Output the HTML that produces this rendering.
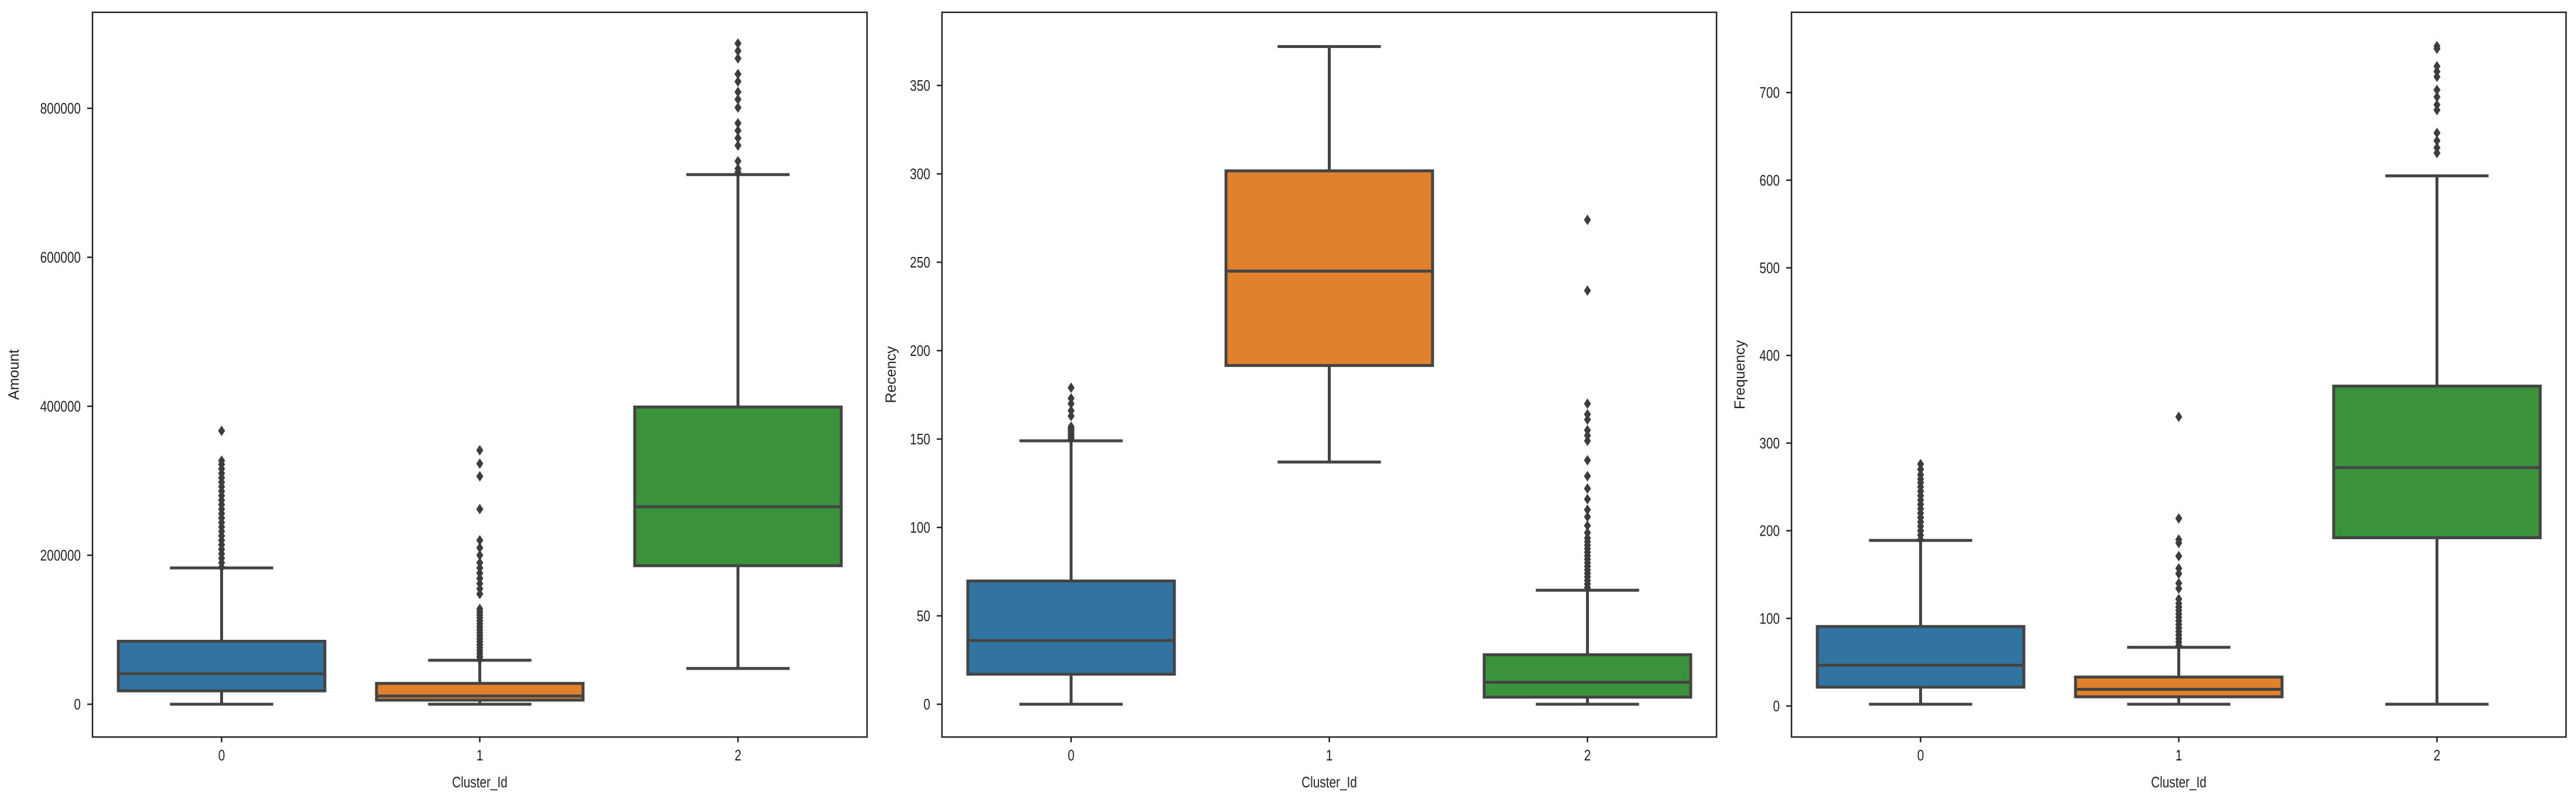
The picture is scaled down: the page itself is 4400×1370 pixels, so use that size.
<!DOCTYPE html>
<html><head><meta charset="utf-8"><style>
html,body{margin:0;padding:0;background:#fff;}
svg{display:block;font-family:"Liberation Sans",sans-serif;}
</style></head><body>
<svg id="fig" width="4400" height="1370" viewBox="0 0 4400 1370" xmlns="http://www.w3.org/2000/svg"></svg>
<script>
const categories = ["0","1","2"];
const colors = ["#3274a1","#e1812c","#3a923a"];
const xLabel = "Cluster_Id";

// Amount panel
const amountTicks = [0,200000,400000,600000,800000];
const amountQ1 = [18000, 5500, 186000];
const amountMed = [41000, 11000, 265000];
const amountQ3 = [84500, 28000, 399000];
const amountLow = [0, 0, 48000];
const amountHigh = [183000, 59000, 711000];
const amountOut0 = [184000,190000,196000,202000,208000,214000,220000,226000,232000,238000,244000,250000,256000,262000,268000,274000,280000,286000,292000,298000,304000,310000,316000,322000,327000,367000];
const amountOut1 = [60000,64000,68000,72000,76000,80000,84000,88000,92000,96000,100000,104000,108000,112000,116000,120000,124000,128000,148000,155000,162000,169000,176000,183000,190000,200000,210000,220000,262000,306000,323000,341000];
const amountOut2 = [714000,719000,729000,750000,760000,770000,780000,801000,812000,822000,836000,846000,867000,877000,887000];

// Recency panel
const recencyTicks = [0,50,100,150,200,250,300,350];
const recencyQ1 = [17, 191.6, 4];
const recencyMed = [36, 245, 12.4];
const recencyQ3 = [69.7, 301.7, 28];
const recencyLow = [0, 137, 0];
const recencyHigh = [149, 372, 64.5];
const recencyOut0 = [150,151,152,153,154,155,156,157,163,166,170,173,179];
const recencyOut1 = [];
const recencyOut2 = [66,68,70,72,74,76,78,80,82,84,86,88,90,92,94,97,101,106,110,116,122,129,138,149,152,155,161,164,170,234,274];

// Frequency panel
const freqTicks = [0,100,200,300,400,500,600,700];
const freqQ1 = [21.5, 10.5, 192];
const freqMed = [46.5, 19, 272];
const freqQ3 = [90.7, 33, 365];
const freqLow = [2, 2, 2];
const freqHigh = [189, 67, 605];
const freqOut0 = [190,195,200,205,210,215,220,225,230,235,240,245,250,255,259,264,270,276];
const freqOut1 = [69,73,77,81,85,89,93,97,101,105,109,113,117,122,134,140,151,157,171,186,190,214,330];
const freqOut2 = [631,637,645,654,680,686,695,703,718,724,730,750,753];

const NS = "http://www.w3.org/2000/svg";
const svg = document.getElementById("fig");
const LINE = "#444444";

function el(tag, attrs, parent){
  const e = document.createElementNS(NS, tag);
  for (const k in attrs) e.setAttribute(k, attrs[k]);
  (parent||svg).appendChild(e);
  return e;
}

function panel(cfg){
  const g = el("g", {});
  
  
  const L = cfg.left, R = cfg.left + 1323, T = 21, B = 1259;
  const y = v => cfg.zeroY - v * cfg.pxPerUnit;
  const x = i => L + (i + 0.5) * (R - L) / 3;
  const bw = 0.8 * (R - L) / 3;

  // boxes
  for (let i = 0; i < 3; i++){
    const bg = el("g", {}, g);
    
    
    const cx = x(i);
    el("line", {x1:cx, x2:cx, y1:y(cfg.q3[i]), y2:y(cfg.high[i]), stroke:LINE, "stroke-width":5}, bg);
    el("line", {x1:cx, x2:cx, y1:y(cfg.q1[i]), y2:y(cfg.low[i]), stroke:LINE, "stroke-width":5}, bg);
    el("line", {x1:cx-bw/4, x2:cx+bw/4, y1:y(cfg.high[i]), y2:y(cfg.high[i]), stroke:LINE, "stroke-width":5}, bg);
    el("line", {x1:cx-bw/4, x2:cx+bw/4, y1:y(cfg.low[i]), y2:y(cfg.low[i]), stroke:LINE, "stroke-width":5}, bg);
    el("rect", {x:cx-bw/2, y:y(cfg.q3[i]), width:bw, height:y(cfg.q1[i])-y(cfg.q3[i]), fill:colors[i], stroke:LINE, "stroke-width":5}, bg);
    el("line", {x1:cx-bw/2, x2:cx+bw/2, y1:y(cfg.med[i]), y2:y(cfg.med[i]), stroke:LINE, "stroke-width":5}, bg);
    cfg.out[i].forEach(v => {
      const yy = y(v);
      const d = el("path", {d:`M${cx} ${yy-9} L${cx+6} ${yy} L${cx} ${yy+9} L${cx-6} ${yy} Z`, fill:"#3d3d3d"}, bg);
      
      
    });
  }
  // frame
  const fr = el("rect", {x:L, y:T, width:R-L, height:B-T, fill:"none", stroke:"#222", "stroke-width":2.5}, g);
  
  
  // y ticks
  cfg.ticks.forEach(t => {
    const yy = y(t);
    el("line", {x1:L-9, x2:L, y1:yy, y2:yy, stroke:"#222", "stroke-width":2.5}, g);
    const tx = el("text", {x:L-20, y:yy+9, "text-anchor":"end", "font-size":26, fill:"#222", transform:`translate(${L-20} 0) scale(0.8 1) translate(${-(L-20)} 0)`}, g);
    tx.textContent = String(t);
    
    
  });
  // x ticks
  for (let i = 0; i < 3; i++){
    const xx = x(i);
    el("line", {x1:xx, x2:xx, y1:B, y2:B+9, stroke:"#222", "stroke-width":2.5}, g);
    const tx = el("text", {x:xx, y:1299, "text-anchor":"middle", "font-size":26, fill:"#222", transform:`translate(${xx} 0) scale(0.8 1) translate(${-xx} 0)`}, g);
    tx.textContent = categories[i];
    
    
  }
  const xl = el("text", {x:(L+R)/2, y:1345, "text-anchor":"middle", "font-size":26, fill:"#222", transform:`translate(${(L+R)/2} 0) scale(0.8 1) translate(${-(L+R)/2} 0)`}, g);
  xl.textContent = xLabel;
  
  
  const yl = el("text", {x:0, y:0, "text-anchor":"middle", "font-size":25, fill:"#222", transform:`translate(${cfg.ylabX} 640) rotate(-90)`}, g);
  yl.textContent = cfg.title;
  
  
}

panel({name:"amount", title:"Amount", left:158, zeroY:1203, pxPerUnit:254.5/200000, ylabX:32,
  ticks:amountTicks, q1:amountQ1, med:amountMed, q3:amountQ3, low:amountLow, high:amountHigh, out:[amountOut0,amountOut1,amountOut2]});
panel({name:"recency", title:"Recency", left:1609, zeroY:1203, pxPerUnit:151/50, ylabX:1530,
  ticks:recencyTicks, q1:recencyQ1, med:recencyMed, q3:recencyQ3, low:recencyLow, high:recencyHigh, out:[recencyOut0,recencyOut1,recencyOut2]});
panel({name:"frequency", title:"Frequency", left:3060, zeroY:1206, pxPerUnit:149.7/100, ylabX:2980,
  ticks:freqTicks, q1:freqQ1, med:freqMed, q3:freqQ3, low:freqLow, high:freqHigh, out:[freqOut0,freqOut1,freqOut2]});
</script>
</body></html>
